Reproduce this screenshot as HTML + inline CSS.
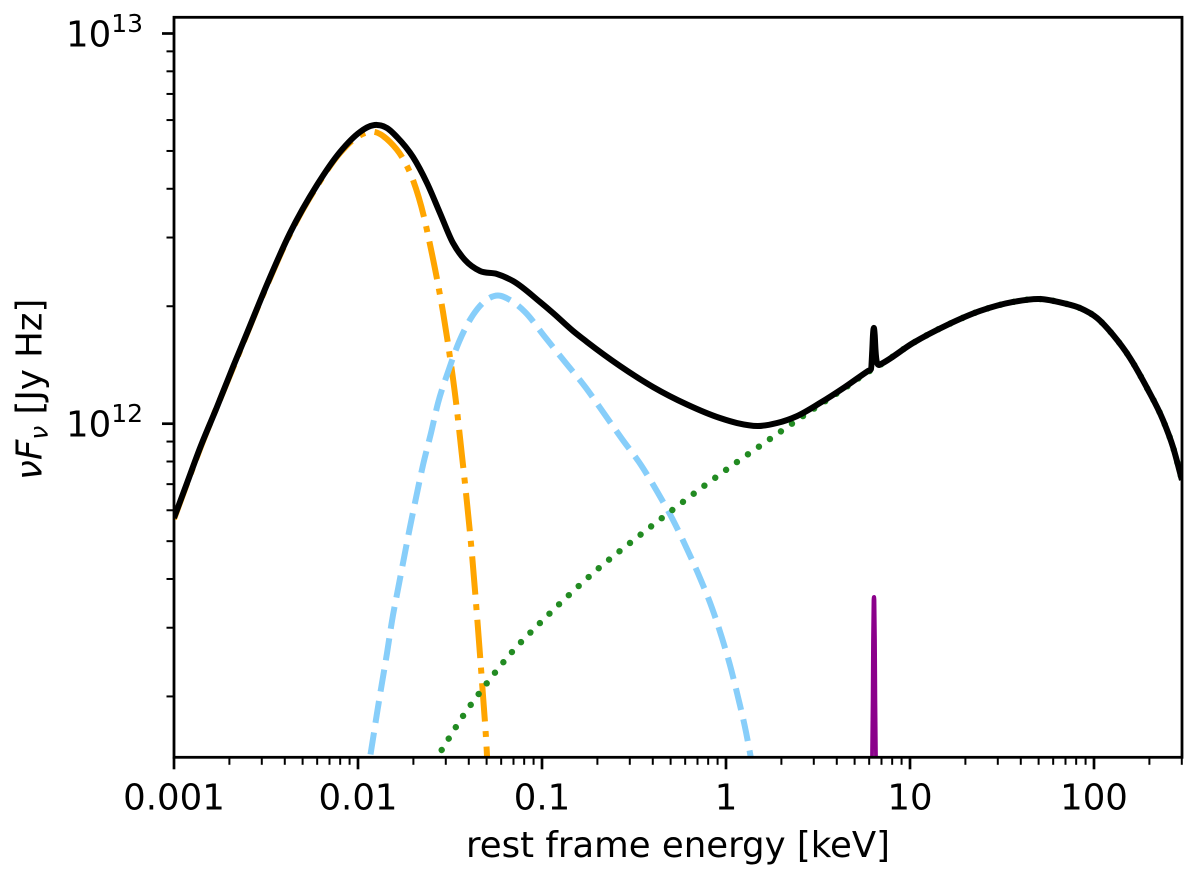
<!DOCTYPE html>
<html lang="en">
<head>
<meta charset="utf-8">
<title>Rest frame SED</title>
<style>
html,body{margin:0;padding:0;background:#fff;}
svg{display:block;}
text{font-family:"DejaVu Sans","Liberation Sans",sans-serif;fill:#000;}
</style>
</head>
<body>
<svg id="chart" xmlns="http://www.w3.org/2000/svg" width="1200" height="881" viewBox="0 0 1200 881">
  <defs>
    <clipPath id="plot-clip"><rect x="174" y="17.3" width="1008" height="740"></rect></clipPath>
  </defs>
  <rect x="0" y="0" width="1200" height="881" fill="#fff"></rect>
  <g id="series" clip-path="url(#plot-clip)"></g>
  <g id="ticks"></g>
  <rect x="174" y="17.3" width="1008" height="740" fill="none" stroke="#000" stroke-width="2.8"></rect>
  <text x="678" y="857" font-size="35.5" text-anchor="middle">rest frame energy [keV]</text>
  <text transform="translate(41.7 480) rotate(-90)" font-size="35.5"><tspan font-style="italic">νF</tspan><tspan font-style="italic" font-size="25" dy="6">ν</tspan><tspan dy="-6"> [Jy Hz]</tspan></text>
</svg>
<script>
// Energies in keV, fluxes in units of 10^12 Jy Hz
const energyOrange = [0.001,0.001385,0.002093,0.003243,0.00427,0.005988,0.007984,0.00988,0.01237,0.01493,0.01734,0.0199,0.02284,0.02446,0.02687,0.02897,0.03143,0.03409,0.0363,0.03898,0.0418,0.04461,0.04737,0.05006,0.05087];
const fluxOrange = [0.5699,0.8614,1.389,2.294,3.063,4.066,4.94,5.428,5.592,5.272,4.825,4.213,3.385,2.922,2.349,1.933,1.509,1.137,0.8715,0.6374,0.4529,0.3103,0.2127,0.1458,0.1258];

const energyBlue = [0.01133,0.01192,0.01269,0.0135,0.01438,0.0153,0.0165,0.01778,0.01917,0.02066,0.02256,0.02493,0.02722,0.03084,0.03539,0.04217,0.049,0.05768,0.067,0.08085,0.1038,0.1334,0.1734,0.2145,0.2722,0.3451,0.427,0.5152,0.6138,0.7224,0.8393,0.9513,1.065,1.162,1.284,1.35,1.402];
const fluxBlue = [0.1296,0.1502,0.1814,0.2165,0.2585,0.3122,0.3771,0.4529,0.5436,0.6451,0.7838,0.9467,1.13,1.357,1.62,1.899,2.063,2.131,2.075,1.933,1.668,1.439,1.235,1.072,0.9137,0.7838,0.6642,0.5666,0.4775,0.4022,0.3371,0.2823,0.2351,0.1993,0.1622,0.1433,0.1296];

const energyGreen = [0.0285,0.03721,0.05024,0.06871,0.09752,0.1402,0.2041,0.3008,0.4488,0.7594,1.148,1.734,2.621,4.433,5.911,6.871,10.38,15.89,24.01,36.3,50.87,67.85,83.9,103.8,126.9,156.9,194.1,237.1,268.7,300.6];
const fluxGreen = [0.1458,0.1782,0.2165,0.26,0.3085,0.3639,0.4268,0.4947,0.5732,0.6923,0.7977,0.9137,1.046,1.235,1.357,1.414,1.61,1.79,1.945,2.051,2.087,2.038,1.979,1.866,1.688,1.474,1.235,1.022,0.8715,0.7173];

const energyPurple = [6.1,6.216,6.262,6.293,6.332,6.372,6.413,6.453,6.486,6.533,6.657];
const fluxPurple = [0.1118,0.1399,0.1958,0.2791,0.3534,0.3597,0.3534,0.2791,0.1958,0.1399,0.1118];

const energyBlack = [0.001,0.001177,0.001385,0.001713,0.002093,0.002493,0.003243,0.00427,0.005988,0.007984,0.01025,0.01133,0.01269,0.01438,0.01629,0.0199,0.02371,0.0279,0.03282,0.03815,0.04603,0.05693,0.06957,0.09752,0.1148,0.1474,0.1756,0.2654,0.4011,0.6138,0.9277,1.148,1.492,1.893,2.431,3.243,4.433,5.911,6.138,6.238,6.293,6.357,6.429,6.493,6.6,6.785,6.871,10.38,15.89,24.01,36.3,50.87,67.85,83.9,103.8,126.9,156.9,194.1,237.1,268.7,300.6];
const fluxBlack = [0.5732,0.7047,0.8665,1.104,1.398,1.707,2.307,3.081,4.09,4.969,5.592,5.759,5.83,5.725,5.428,4.825,4.139,3.467,2.905,2.627,2.462,2.419,2.321,2.051,1.922,1.729,1.62,1.406,1.242,1.12,1.034,1.004,0.9865,1.004,1.046,1.13,1.242,1.365,1.381,1.545,1.688,1.759,1.688,1.545,1.439,1.414,1.418,1.61,1.79,1.945,2.051,2.087,2.038,1.979,1.866,1.688,1.474,1.235,1.022,0.8715,0.7173];

const xTickValues = [0.001,0.01,0.1,1,10,100];
const xTickLabels = ["0.001","0.01","0.1","1","10","100"];
const yTickValues = [1,10];
const yTickExponents = ["12","13"];
const minorMultipliers = [2,3,4,5,6,7,8,9];
const xMinorDecades = [0.001,0.01,0.1,1,10,100];
const yMinorDecades = [0.1,1];

const NS = "http://www.w3.org/2000/svg";
const plotLeft = 174, plotRight = 1182, plotTop = 17.3, plotBottom = 757.3;
function xScale(e){ return plotLeft + 184 * (Math.log10(e) + 3); }
function yScale(f){ return 423.7 - 390.2 * Math.log10(f); }

function smoothPath(xs, ys){
  const n = xs.length, dx = [], m = [], t = [];
  for (let i = 0; i < n - 1; i++){ dx[i] = xs[i+1] - xs[i]; m[i] = (ys[i+1] - ys[i]) / dx[i]; }
  t[0] = m[0]; t[n-1] = m[n-2];
  for (let i = 1; i < n - 1; i++){
    let v = (m[i-1] * dx[i] + m[i] * dx[i-1]) / (dx[i-1] + dx[i]);
    const limit = 3 * Math.min(Math.abs(m[i-1]), Math.abs(m[i]));
    if (m[i-1] * m[i] > 0 && Math.abs(v) > limit) { v = Math.sign(v) * limit; }
    t[i] = v;
  }
  let d = "M" + xs[0].toFixed(2) + " " + ys[0].toFixed(2);
  for (let i = 0; i < n - 1; i++){
    const h = dx[i] / 3;
    d += "C" + (xs[i] + h).toFixed(2) + " " + (ys[i] + t[i] * h).toFixed(2) + " " +
         (xs[i+1] - h).toFixed(2) + " " + (ys[i+1] - t[i+1] * h).toFixed(2) + " " +
         xs[i+1].toFixed(2) + " " + ys[i+1].toFixed(2);
  }
  return d;
}

const seriesGroup = document.getElementById("series");
const ticksGroup = document.getElementById("ticks");
const chartSvg = document.getElementById("chart");

function drawSeries(name, energies, fluxes, color, width, dash, cap, offset){
  const el = document.createElementNS(NS, "path");
  
  
  el.setAttribute("d", smoothPath(energies.map(xScale), fluxes.map(yScale)));
  el.setAttribute("fill", "none");
  el.setAttribute("stroke", color);
  el.setAttribute("stroke-width", width);
  el.setAttribute("stroke-linejoin", "round");
  el.setAttribute("stroke-linecap", cap);
  if (dash) { el.setAttribute("stroke-dasharray", dash); }
  if (offset) { el.setAttribute("stroke-dashoffset", offset); }
  seriesGroup.appendChild(el);
}

drawSeries("disk-component-line", energyOrange, fluxOrange, "#ffa500", 6, "38.4 9.6 6 9.6", "butt", 0);
drawSeries("soft-excess-component-line", energyBlue, fluxBlue, "#87cefa", 6, "22.2 9.6", "butt", 16);
drawSeries("power-law-component-line", energyGreen, fluxGreen, "#228b22", 6.4, "0.01 13.4", "round", 0);
drawSeries("iron-line-component", energyPurple, fluxPurple, "#8b008b", 3.8, null, "butt", 0);
drawSeries("total-model-line", energyBlack, fluxBlack, "#000000", 6, null, "butt", 0);

function drawTick(name, x1, y1, x2, y2, w){
  const el = document.createElementNS(NS, "line");
  
  
  el.setAttribute("x1", x1);
  el.setAttribute("y1", y1);
  el.setAttribute("x2", x2);
  el.setAttribute("y2", y2);
  el.setAttribute("stroke", "#000");
  el.setAttribute("stroke-width", w);
  ticksGroup.appendChild(el);
}

xTickValues.forEach(function(v, i){
  const x = xScale(v);
  drawTick("x-major-tick", x, plotBottom, x, plotBottom + 12, 2.7);
  const t = document.createElementNS(NS, "text");
  
  
  t.setAttribute("x", x);
  t.setAttribute("y", 809.5);
  t.setAttribute("font-size", "35.5");
  t.setAttribute("text-anchor", "middle");
  t.textContent = xTickLabels[i];
  chartSvg.appendChild(t);
});

xMinorDecades.forEach(function(d){
  minorMultipliers.forEach(function(m){
    const v = d * m;
    if (v <= 300) {
      const x = xScale(v);
      drawTick("x-minor-tick", x, plotBottom, x, plotBottom + 7.5, 2);
    }
  });
});

yTickValues.forEach(function(v, i){
  const y = yScale(v);
  drawTick("y-major-tick", plotLeft - 12, y, plotLeft, y, 2.7);
  const t = document.createElementNS(NS, "text");
  
  
  t.setAttribute("x", 66);
  t.setAttribute("y", y + 12.8);
  t.setAttribute("font-size", "35.5");
  const base = document.createElementNS(NS, "tspan");
  base.textContent = "10";
  t.appendChild(base);
  const sup = document.createElementNS(NS, "tspan");
  sup.setAttribute("font-size", "25");
  sup.setAttribute("dy", "-14.3");
  sup.textContent = yTickExponents[i];
  t.appendChild(sup);
  chartSvg.appendChild(t);
});

yMinorDecades.forEach(function(d){
  minorMultipliers.forEach(function(m){
    const y = yScale(d * m);
    if (y <= plotBottom && y >= plotTop) {
      drawTick("y-minor-tick", plotLeft - 7.5, y, plotLeft, y, 2);
    }
  });
});
</script>
</body>
</html>
